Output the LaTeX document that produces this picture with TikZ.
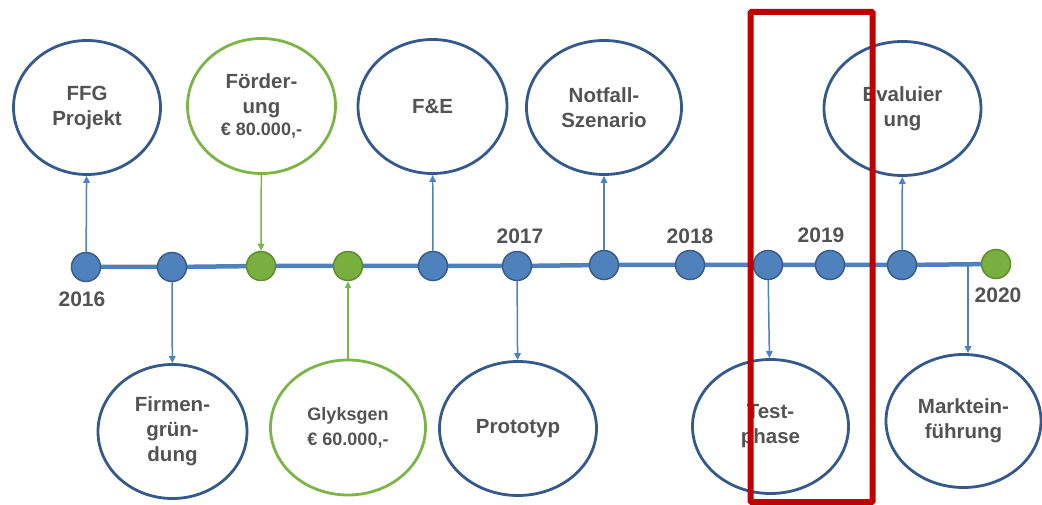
\documentclass[tikz,border=0pt]{standalone}
\usepackage{fontspec}
\setmainfont{Liberation Sans}
\usetikzlibrary{shapes.geometric,arrows.meta,backgrounds}
\definecolor{tlblue}{HTML}{4F81BD}
\definecolor{dotedge}{HTML}{385D8A}
\definecolor{ellblue}{HTML}{34598A}
\definecolor{grfill}{HTML}{78AF3F}
\definecolor{gredge}{HTML}{5E8E30}
\definecolor{grline}{HTML}{7BB548}
\definecolor{txt}{HTML}{535353}
\definecolor{hlred}{HTML}{C00000}
\begin{document}
\begin{tikzpicture}[x=1pt,y=-1pt,
  dotb/.style={circle,fill=tlblue,draw=dotedge,line width=1.5pt,minimum size=29pt,inner sep=0pt},
  dotg/.style={dotb,fill=grfill,draw=gredge},
  ellb/.style={ellipse,draw=ellblue,line width=2.8pt,inner sep=0pt,align=center,text=txt,font=\fontsize{20.5}{25}\selectfont\bfseries},
  ellg/.style={ellb,draw=grline},
  arrb/.style={draw=tlblue,line width=1.5pt,-{Triangle[length=7pt,width=6.5pt]}},
  arrg/.style={arrb,draw=grline},
  yr/.style={text=txt,font=\fontsize{21}{25}\selectfont\bfseries,inner sep=0pt},
  tline/.style={draw=tlblue,line width=4.5pt}
]
\useasboundingbox (0,0) rectangle (1042,505);

% timeline dots
\node[dotb] (d1)  at (86,267) {};
\node[dotb] (d2)  at (172,267) {};
\node[dotg] (d3)  at (261,266) {};
\node[dotg] (d4)  at (348,266) {};
\node[dotb] (d5)  at (433,266) {};
\node[dotb] (d6)  at (517,266) {};
\node[dotb] (d7)  at (604,265) {};
\node[dotb] (d8)  at (690,265) {};
\node[dotb] (d9)  at (768,265) {};
\node[dotb] (d10) at (830,265) {};
\node[dotb] (d11) at (902,265) {};
\node[dotg] (d12) at (996,264) {};
\coordinate (m0) at (968,264.5);

\begin{scope}[on background layer]
\draw[tline] (d1.center) -- (d2.center) -- (d3.center) -- (d4.center) -- (d5.center) -- (d6.center) -- (d7.center) -- (d8.center) -- (d9.center) -- (d10.center) -- (d11.center) -- (d12.center);
\end{scope}

% years
\node[yr] (y2016) at (82,299) {2016};
\node[yr] (y2017) at (520,236) {2017};
\node[yr] (y2018) at (690,236) {2018};
\node[yr] (y2019) at (821,235) {2019};
\node[yr] (y2020) at (998,295) {2020};

% top ellipses
\node[ellb,minimum width=147pt,minimum height=134pt] (ffg) at (87,107.5) {FFG\\Projekt};
\node[ellg,minimum width=148pt,minimum height=135pt] (foe) at (261.5,106) {F\"order-\\ung\\[-3pt]{\fontsize{18}{20}\selectfont \texteuro{} 80.000,-}};
\node[ellb,minimum width=149pt,minimum height=134pt] (fue) at (432.5,106.5) {F\&E};
\node[ellb,minimum width=155pt,minimum height=134pt] (not) at (604,107.5) {Notfall-\\Szenario};
\node[ellb,minimum width=157pt,minimum height=134pt] (eva) at (902.5,108.5) {Evaluier\\ung};

% bottom ellipses
\node[ellb,minimum width=149pt,minimum height=134pt] (fir) at (172.5,431.5) {Firmen-\\gr\"un-\\dung};
\node[ellg,minimum width=155pt,minimum height=135pt] (gly) at (348,427.5) {\fontsize{18}{23}\selectfont Glyksgen\\\fontsize{18}{23}\selectfont \texteuro{} 60.000,-};
\node[ellb,minimum width=157pt,minimum height=134pt] (pro) at (518,428.5) {Prototyp};
\node[ellb,minimum width=156pt,minimum height=134pt] (tes) at (770.5,426.5) {Test-\\phase};
\node[ellb,minimum width=155pt,minimum height=133pt] (mar) at (963.5,421) {Marktein-\\f\"uhrung};

% connectors
\draw[arrb] (d1) -- (ffg);
\draw[arrg] (foe) -- (d3);
\draw[arrb] (d5) -- (fue);
\draw[arrb] (d7) -- (not);
\draw[arrb] (d11) -- (eva);
\draw[arrb] (d2) -- (fir);
\draw[arrg] (gly) -- (d4);
\draw[arrb] (d6) -- (pro);
\draw[arrb] (d9) -- (tes);
\draw[arrb] (m0) -- (m0 |- mar.north);

% highlight
\draw[draw=hlred,line width=6pt,rounded corners=1pt] (750.5,12) rectangle (872.5,502);
\end{tikzpicture}
\end{document}
